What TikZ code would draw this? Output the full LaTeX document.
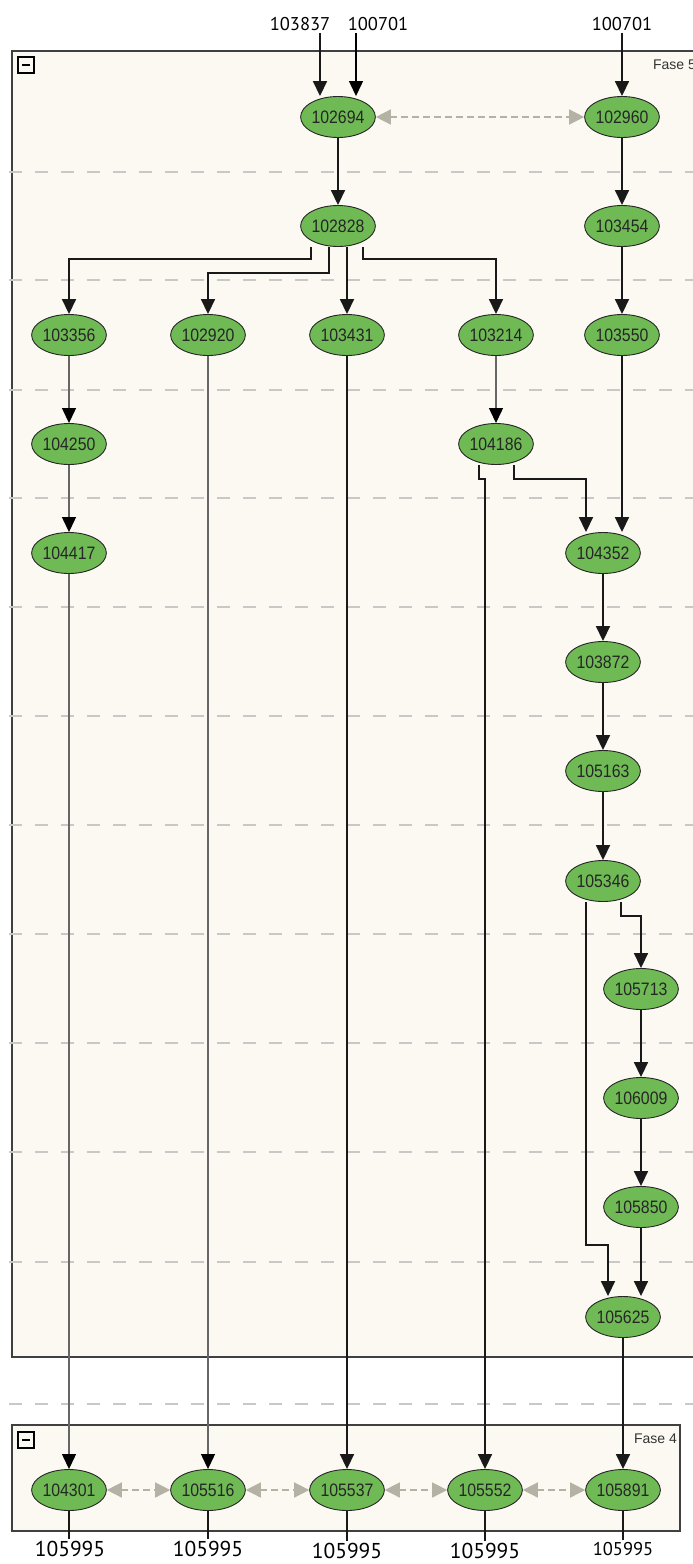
\documentclass[tikz,border=0pt]{standalone}
\usepackage{fontspec}
\setmainfont{Liberation Sans}
\newfontfamily\nodefont[FakeStretch=0.88]{Liberation Sans}
\newfontfamily\lblfont{PT Sans}
\usetikzlibrary{arrows.meta,shapes.geometric}
\definecolor{nodegreen}{RGB}{111,186,84}
\definecolor{phasefill}{RGB}{252,249,243}
\definecolor{linkgray}{RGB}{180,178,164}
\definecolor{rowgray}{RGB}{200,200,198}
\tikzset{
  task/.style={ellipse, draw=black!85, line width=0.9pt, fill=nodegreen,
    minimum width=72pt, minimum height=41pt, inner sep=0pt,
    font=\nodefont\fontsize{18}{19}\selectfont, text=black!85},
  dep/.style={draw=black!90, line width=1.7pt, -{Triangle[length=15pt,width=14pt]}},
  depthin/.style={draw=black!60, line width=1.2pt, -{Triangle[length=15pt,width=14pt,color=black]}},
  depin/.style={draw=black, line width=1.2pt, -{Triangle[length=15pt,width=14pt]}},
  link/.style={draw=linkgray, line width=1.5pt, dash pattern=on 7pt off 4pt,
    {Triangle[length=15pt,width=15pt]}-{Triangle[length=15pt,width=15pt]}},
  rowline/.style={draw=rowgray, line width=1.4pt, dash pattern=on 13pt off 13pt},
  toplbl/.style={font=\lblfont\fontsize{18.5}{20}\selectfont, inner sep=2pt},
  botlbl/.style={font=\lblfont\fontsize{21.5}{23}\selectfont, inner sep=2pt},
  botlblsm/.style={font=\lblfont\fontsize{18.5}{20}\selectfont, inner sep=2pt},
  phaselbl/.style={font=\fontsize{14}{16}\selectfont, text=black!80, inner sep=0pt},
  outline/.style={draw=black!75, line width=1.3pt},
  tail/.style={draw=black!90, line width=1.4pt}
}
\begin{document}
\begin{tikzpicture}[x=1pt,y=-1pt]
\useasboundingbox (0,0) rectangle (693,1564);
\fill[white] (0,0) rectangle (693,1564);
% phase boxes
\fill[phasefill] (12,51) rectangle (693,1357);
\draw[outline] (693,51) -- (12,51) -- (12,1357) -- (693,1357);
\fill[phasefill] (12,1425) rectangle (680,1531);
\draw[outline] (12,1425) rectangle (680,1531);
% row separators
\foreach \yy in {172,280,390,498,607,716,825,934,1043,1152,1262,1404}
  \draw[rowline] (9,\yy) -- (693,\yy);
% collapse icons
\draw[draw=black, line width=1.4pt] (18,57) rectangle (34,73);
\draw[draw=black, line width=1.4pt] (22,65) -- (30,65);
\draw[draw=black, line width=1.4pt] (18,1432) rectangle (34,1448);
\draw[draw=black, line width=1.4pt] (22,1440) -- (30,1440);
\node[phaselbl, anchor=east] (f5) at (696,65) {Fase 5};
\node[phaselbl, anchor=east] (f4) at (677,1439) {Fase 4};
% external labels
\node[toplbl] (t1) at (300,24) {103837};
\node[toplbl] (t2) at (378,24) {100701};
\node[toplbl] (t3) at (622,24) {100701};
% tasks
\node[task] (n102694) at (338,117) {102694};
\node[task] (n102960) at (622,117) {102960};
\node[task] (n102828) at (338,226) {102828};
\node[task] (n103454) at (622,226) {103454};
\node[task] (n103356) at (69,335) {103356};
\node[task] (n102920) at (208,335) {102920};
\node[task] (n103431) at (347,335) {103431};
\node[task] (n103214) at (496,335) {103214};
\node[task] (n103550) at (622,335) {103550};
\node[task] (n104250) at (69,444) {104250};
\node[task] (n104186) at (496,444) {104186};
\node[task] (n104417) at (69,553) {104417};
\node[task] (n104352) at (603,553) {104352};
\node[task] (n103872) at (603,662) {103872};
\node[task] (n105163) at (603,771) {105163};
\node[task] (n105346) at (603,881) {105346};
\node[task] (n105713) at (641,989) {105713};
\node[task] (n106009) at (641,1098) {106009};
\node[task] (n105850) at (641,1207) {105850};
\node[task] (n105625) at (623,1317) {105625};
\node[task] (n104301) at (69,1490) {104301};
\node[task] (n105516) at (208,1490) {105516};
\node[task] (n105537) at (347,1490) {105537};
\node[task] (n105552) at (485,1490) {105552};
\node[task] (n105891) at (623,1490) {105891};
% bottom labels
\node[botlbl] (b1) at (70,1549) {105995};
\node[botlbl] (b2) at (208,1549) {105995};
\node[botlbl] (b3) at (347,1551) {105995};
\node[botlbl] (b4) at (485,1551) {105995};
\node[botlblsm] (b5) at (623,1549) {105995};
% incoming
\draw[dep] ([xshift=-18pt]n102694.north |- t1.south) -- ([xshift=-18pt]n102694.north);
\draw[depin] ([xshift=18pt]n102694.north |- t2.south) -- ([xshift=18pt]n102694.north);
\draw[dep] (t3.south) -- (n102960.north);
% dependencies
\draw[dep] (n102694.south) -- (n102828.north);
\draw[dep] (n102960.south) -- (n103454.north);
\draw[dep] (n103454.south) -- (n103550.north);
\draw[dep] ([xshift=-27pt]n102828.south) -- ++(0,12) -| (n103356.north);
\draw[dep] ([xshift=-9pt]n102828.south) -- ++(0,26) -| (n102920.north);
\draw[dep] ([xshift=9pt]n102828.south) -- (n103431.north);
\draw[dep] ([xshift=25pt]n102828.south) -- ++(0,12) -| (n103214.north);
\draw[depthin] (n103356.south) -- (n104250.north);
\draw[depthin] (n104250.south) -- (n104417.north);
\draw[depthin] (n103214.south) -- (n104186.north);
\draw[depthin] (n104417.south) -- (n104301.north);
\draw[depthin] (n102920.south) -- (n105516.north);
\draw[dep] (n103431.south) -- (n105537.north);
\draw[dep] ([xshift=-17pt]n104186.south) -- ++(0,14) -| (n105552.north);
\draw[dep] ([xshift=18pt]n104186.south) -- ++(0,14) -| ([xshift=-17pt]n104352.north);
\draw[dep] (n103550.south) -- (n103550.south |- n104352.north);
\draw[dep] (n104352.south) -- (n103872.north);
\draw[dep] (n103872.south) -- (n105163.north);
\draw[dep] (n105163.south) -- (n105346.north);
\draw[dep] ([xshift=-17pt]n105346.south) -- ++(0,343) -| ([xshift=-15pt]n105625.north);
\draw[dep] ([xshift=18pt]n105346.south) -- ++(0,14) -| (n105713.north);
\draw[dep] (n105713.south) -- (n106009.north);
\draw[dep] (n106009.south) -- (n105850.north);
\draw[dep] (n105850.south) -- (n105850.south |- n105625.north);
\draw[dep] (n105625.south) -- (n105891.north);
% links
\draw[link] (n102694.east) -- (n102960.west);
\draw[link] (n104301.east) -- (n105516.west);
\draw[link] (n105516.east) -- (n105537.west);
\draw[link] (n105537.east) -- (n105552.west);
\draw[link] (n105552.east) -- (n105891.west);
% outgoing
\draw[tail] (n104301.south) -- (n104301.south |- b1.north);
\draw[tail] (n105516.south) -- (n105516.south |- b2.north);
\draw[tail] (n105537.south) -- (n105537.south |- b3.north);
\draw[tail] (n105552.south) -- (n105552.south |- b4.north);
\draw[tail] (n105891.south) -- (n105891.south |- b5.north);
\end{tikzpicture}
\end{document}
